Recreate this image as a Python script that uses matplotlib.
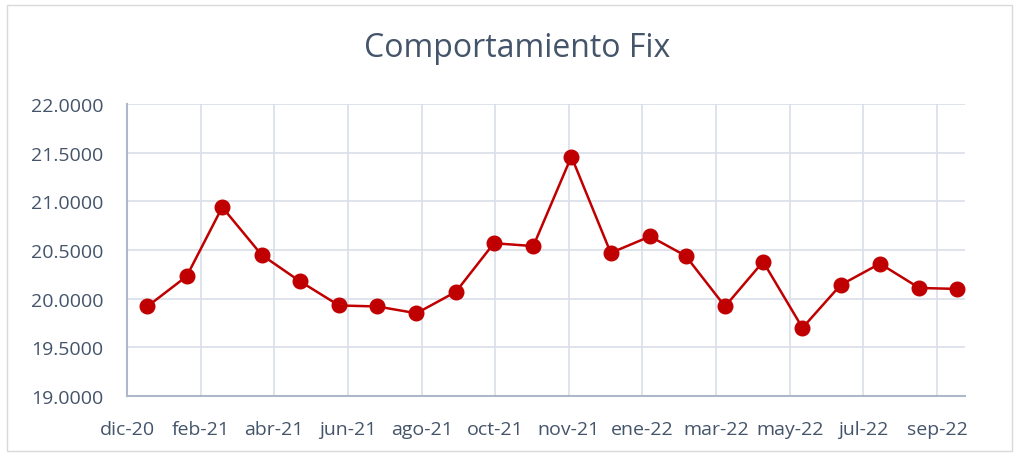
import datetime as dt
import numpy as np
import matplotlib.pyplot as plt
import matplotlib.dates as mdates
from matplotlib.patches import Rectangle

# month-end dates, dic-20 .. sep-22
months = [(2020, 12)] + [(2021, m) for m in range(1, 13)] + [(2022, m) for m in range(1, 10)]
fix = [19.92, 20.23, 20.94, 20.45, 20.18, 19.93, 19.92, 19.85, 20.07, 20.57, 20.54,
       21.46, 20.47, 20.64, 20.44, 19.92, 20.38, 19.70, 20.14, 20.36, 20.11, 20.10]

def month_end(y, m):
    nxt = dt.date(y + (m == 12), m % 12 + 1, 1)
    return nxt - dt.timedelta(days=1)

dates = [month_end(y, m) for y, m in months]

# excel-style date axis: tick every 58 days
tick_start = dt.date(2020, 12, 15)
ticks = [tick_start + dt.timedelta(days=58 * k) for k in range(12)]
meses = ['ene', 'feb', 'mar', 'abr', 'may', 'jun', 'jul', 'ago', 'sep', 'oct', 'nov', 'dic']
tick_labels = [f"{meses[t.month - 1]}-{t.year % 100}" for t in ticks]

text_col = '#44546a'
grid_col = '#d9dee8'
axis_col = '#adb9ca'
red = '#c00000'

plt.rcParams['font.family'] = ['Open Sans', 'DejaVu Sans']

fig = plt.figure(figsize=(10.16, 4.56), dpi=100)
ax = fig.add_axes([127 / 1016, 1 - 397 / 456, (965 - 127) / 1016, (397 - 105) / 456])

ax.plot(dates, fix, color=red, lw=1.8, marker='o', markersize=10.5, zorder=3)

ax.set_ylim(19.0, 22.0)
ax.set_yticks(np.arange(19.0, 22.01, 0.5))
ax.yaxis.set_major_formatter(plt.FuncFormatter(lambda v, p: f"{v:.4f}"))
ax.set_xlim(mdates.date2num(tick_start), mdates.date2num(dt.date(2022, 10, 6)))
ax.set_xticks(ticks)
ax.set_xticklabels(tick_labels)

ax.grid(True, color=grid_col, lw=1.2)
ax.set_axisbelow(True)
for s in ['top', 'right']:
    ax.spines[s].set_visible(False)
for s in ['left', 'bottom']:
    ax.spines[s].set_color(axis_col)
    ax.spines[s].set_linewidth(1.5)
ax.tick_params(length=0, labelsize=14, colors=text_col)
ax.tick_params(axis='x', pad=17)
ax.tick_params(axis='y', pad=17)

fig.text(517 / 1016, 1 - 49 / 456, 'Comportamiento Fix', ha='center', va='center',
         fontsize=23, color=text_col)

fig.patches.append(Rectangle((7 / 1016, 4 / 456), 1005 / 1016, 446 / 456,
                             transform=fig.transFigure, fill=False,
                             edgecolor='#d9d9d9', lw=1))

fig.savefig('out.png', dpi=100)
